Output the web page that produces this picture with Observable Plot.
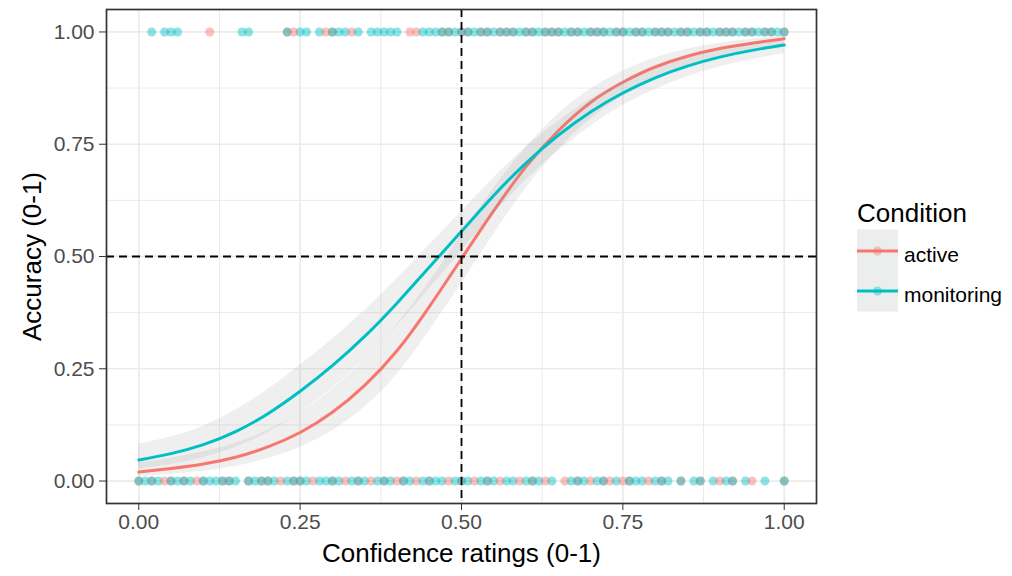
<!DOCTYPE html>
<html><head><meta charset="utf-8">
<script src="https://cdn.jsdelivr.net/npm/d3@7"></script>
<script src="https://cdn.jsdelivr.net/npm/@observablehq/plot@0.6"></script>
<style>
body{margin:0;background:#fff;font-family:"Liberation Sans",Arial,sans-serif;}
#wrap{position:relative;width:1012px;height:576px;overflow:hidden;}
#wrap > svg.chart{position:absolute;left:0;top:0;}
#wrap > svg#legend{position:absolute;left:850px;top:190px;}
</style></head><body><div id="wrap"></div>
<script>
const conditions = ["active", "monitoring"];
const colors = ["#F8766D", "#00BFC4"];
const axisTicks = [0, 0.25, 0.5, 0.75, 1];
const minorTicks = [0.125, 0.375, 0.625, 0.875];
const xTitle = "Confidence ratings (0-1)";
const yTitle = "Accuracy (0-1)";
const legendTitle = "Condition";

// fitted curves and confidence bands
const fitX = [0, 0.05, 0.1, 0.15, 0.2, 0.25, 0.3, 0.35, 0.4, 0.45, 0.5, 0.55, 0.6, 0.65, 0.7, 0.75, 0.8, 0.85, 0.9, 0.95, 1];
const activeFit  = [0.020, 0.028, 0.038, 0.053, 0.076, 0.108, 0.153, 0.213, 0.290, 0.388, 0.495, 0.602, 0.700, 0.780, 0.843, 0.888, 0.922, 0.946, 0.963, 0.975, 0.985];
const activeLow  = [0.010, 0.015, 0.022, 0.033, 0.050, 0.075, 0.112, 0.165, 0.237, 0.334, 0.440, 0.550, 0.652, 0.738, 0.806, 0.857, 0.895, 0.923, 0.944, 0.960, 0.972];
const activeHigh = [0.040, 0.051, 0.065, 0.084, 0.113, 0.152, 0.205, 0.270, 0.348, 0.443, 0.549, 0.652, 0.743, 0.817, 0.873, 0.913, 0.942, 0.962, 0.975, 0.984, 0.991];
const monitoringFit  = [0.047, 0.061, 0.081, 0.110, 0.150, 0.200, 0.257, 0.322, 0.396, 0.476, 0.556, 0.636, 0.708, 0.770, 0.822, 0.864, 0.898, 0.924, 0.944, 0.959, 0.971];
const monitoringLow  = [0.027, 0.037, 0.052, 0.075, 0.108, 0.152, 0.207, 0.271, 0.345, 0.428, 0.512, 0.595, 0.670, 0.735, 0.790, 0.836, 0.872, 0.900, 0.922, 0.938, 0.952];
const monitoringHigh = [0.082, 0.098, 0.122, 0.158, 0.204, 0.258, 0.316, 0.380, 0.450, 0.525, 0.600, 0.675, 0.743, 0.801, 0.850, 0.889, 0.919, 0.942, 0.959, 0.972, 0.981];

// raw responses: confidence of correct (accuracy 1) and error (accuracy 0) trials
const activeCorrect = [0.11, 0.23, 0.24, 0.29, 0.30, 0.33, 0.42, 0.43, 0.47, 0.48, 0.50, 0.51, 0.53, 0.54, 0.56, 0.57, 0.58, 0.60, 0.61, 0.63, 0.64, 0.65, 0.67, 0.68, 0.70, 0.71, 0.72, 0.74, 0.75, 0.77, 0.78, 0.80, 0.81, 0.82, 0.84, 0.85, 0.87, 0.88, 0.90, 0.91, 0.92, 0.94, 0.95, 0.97, 0.98, 1.00];
const monitoringCorrect = [0.02, 0.04, 0.05, 0.06, 0.16, 0.17, 0.23, 0.25, 0.26, 0.28, 0.30, 0.31, 0.32, 0.34, 0.36, 0.37, 0.38, 0.39, 0.40, 0.44, 0.45, 0.46, 0.47, 0.48, 0.49, 0.50, 0.51, 0.52, 0.53, 0.54, 0.55, 0.56, 0.57, 0.58, 0.59, 0.60, 0.61, 0.62, 0.63, 0.64, 0.65, 0.66, 0.67, 0.68, 0.69, 0.70, 0.71, 0.72, 0.73, 0.74, 0.75, 0.76, 0.77, 0.78, 0.79, 0.80, 0.81, 0.82, 0.83, 0.84, 0.85, 0.86, 0.87, 0.88, 0.89, 0.90, 0.91, 0.92, 0.93, 0.94, 0.95, 0.96, 0.97, 0.98, 0.99, 1.00];
const activeError = [0.00, 0.02, 0.04, 0.05, 0.07, 0.09, 0.10, 0.13, 0.14, 0.17, 0.19, 0.20, 0.22, 0.24, 0.25, 0.27, 0.30, 0.32, 0.34, 0.36, 0.38, 0.40, 0.41, 0.43, 0.45, 0.48, 0.50, 0.52, 0.54, 0.56, 0.59, 0.61, 0.63, 0.66, 0.68, 0.70, 0.72, 0.73, 0.75, 0.76, 0.79, 0.81, 0.84, 0.87, 0.90, 0.92, 0.95, 1.00];
const monitoringError = [0.00, 0.01, 0.02, 0.03, 0.05, 0.06, 0.07, 0.08, 0.10, 0.11, 0.12, 0.13, 0.14, 0.15, 0.17, 0.18, 0.19, 0.20, 0.21, 0.23, 0.24, 0.25, 0.26, 0.28, 0.29, 0.30, 0.31, 0.33, 0.34, 0.35, 0.37, 0.38, 0.39, 0.41, 0.42, 0.44, 0.45, 0.46, 0.47, 0.49, 0.50, 0.51, 0.53, 0.54, 0.55, 0.57, 0.58, 0.60, 0.61, 0.62, 0.64, 0.67, 0.68, 0.69, 0.71, 0.72, 0.74, 0.76, 0.77, 0.78, 0.80, 0.81, 0.82, 0.84, 0.86, 0.87, 0.89, 0.91, 0.92, 0.94, 0.97, 1.00];

// build tables
const curves = {
  active: fitX.map((x, i) => ({x, fit: activeFit[i], lo: activeLow[i], hi: activeHigh[i], condition: "active"})),
  monitoring: fitX.map((x, i) => ({x, fit: monitoringFit[i], lo: monitoringLow[i], hi: monitoringHigh[i], condition: "monitoring"}))
};
const points = [
  ...activeCorrect.map(x => ({x, y: 1, condition: "active"})),
  ...monitoringCorrect.map(x => ({x, y: 1, condition: "monitoring"})),
  ...activeError.map(x => ({x, y: 0, condition: "active"})),
  ...monitoringError.map(x => ({x, y: 0, condition: "monitoring"}))
].sort((a, b) => a.x - b.x || (a.condition < b.condition ? -1 : 1));

const fmt = d3.format(".2f");
const smooth = [];
for (const c of conditions) {
  smooth.push(Plot.areaY(curves[c], {x: "x", y1: "lo", y2: "hi", fill: "#999999", fillOpacity: 0.16, curve: "natural"}));
  smooth.push(Plot.line(curves[c], {x: "x", y: "fit", stroke: "condition", strokeWidth: 3, curve: "natural"}));
}

const chart = Plot.plot({
  className: "chart",
  width: 830,
  height: 576,
  marginLeft: 106,
  marginRight: 14,
  marginTop: 9,
  marginBottom: 73,
  style: {fontFamily: "'Liberation Sans', Arial, sans-serif", background: "transparent"},
  x: {domain: [-0.05, 1.05]},
  y: {domain: [-0.05, 1.05]},
  color: {domain: conditions, range: colors},
  marks: [
    Plot.gridX(minorTicks, {stroke: "#EBEBEB", strokeOpacity: 1, strokeWidth: 1}),
    Plot.gridY(minorTicks, {stroke: "#EBEBEB", strokeOpacity: 1, strokeWidth: 1}),
    Plot.gridX(axisTicks, {stroke: "#EBEBEB", strokeOpacity: 1, strokeWidth: 1.7}),
    Plot.gridY(axisTicks, {stroke: "#EBEBEB", strokeOpacity: 1, strokeWidth: 1.7}),
    Plot.dot(points, {x: "x", y: "y", fill: "condition", r: 4.5, fillOpacity: 0.45}),
    ...smooth,
    Plot.ruleX([0.5], {stroke: "black", strokeWidth: 1.8, strokeDasharray: "8,5"}),
    Plot.ruleY([0.5], {stroke: "black", strokeWidth: 1.8, strokeDasharray: "8,5"}),
    Plot.frame({stroke: "#333333", strokeWidth: 1.7}),
    Plot.axisX(axisTicks, {tickFormat: fmt, tickSize: 7, tickPadding: 4, fontSize: 21, stroke: "#333333", fill: "#4D4D4D", label: null}),
    Plot.axisY(axisTicks, {tickFormat: fmt, tickSize: 7, tickPadding: 5, fontSize: 21, stroke: "#333333", fill: "#4D4D4D", label: null}),
    Plot.text([xTitle], {frameAnchor: "bottom", dy: 50, lineAnchor: "middle", textAnchor: "middle", text: d => d, fontSize: 26, fill: "black"}),
    Plot.text([yTitle], {frameAnchor: "left", dx: -74, rotate: -90, lineAnchor: "middle", textAnchor: "middle", text: d => d, fontSize: 26, fill: "black"})
  ]
});
document.getElementById("wrap").appendChild(chart);

// legend
const lg = d3.select("#wrap").append("svg").attr("id", "legend")
  .attr("width", 162).attr("height", 130)
  .style("font-family", "'Liberation Sans', Arial, sans-serif");
lg.append("text").attr("x", 7).attr("y", 31.5).attr("font-size", 26).attr("fill", "black").text(legendTitle);
lg.append("rect").attr("x", 7).attr("y", 39.5).attr("width", 41).attr("height", 82).attr("fill", "#ECEEEE");
conditions.forEach((c, i) => {
  const cy = 61 + i * 40;
  lg.append("line").attr("x1", 7).attr("x2", 48).attr("y1", cy).attr("y2", cy).attr("stroke", colors[i]).attr("stroke-width", 3);
  lg.append("circle").attr("cx", 27.5).attr("cy", cy).attr("r", 4.5).attr("fill", colors[i]).attr("fill-opacity", 0.4);
  lg.append("text").attr("x", 54).attr("y", cy + 10.5).attr("font-size", 21).attr("fill", "black").text(c);
});
</script></body></html>
